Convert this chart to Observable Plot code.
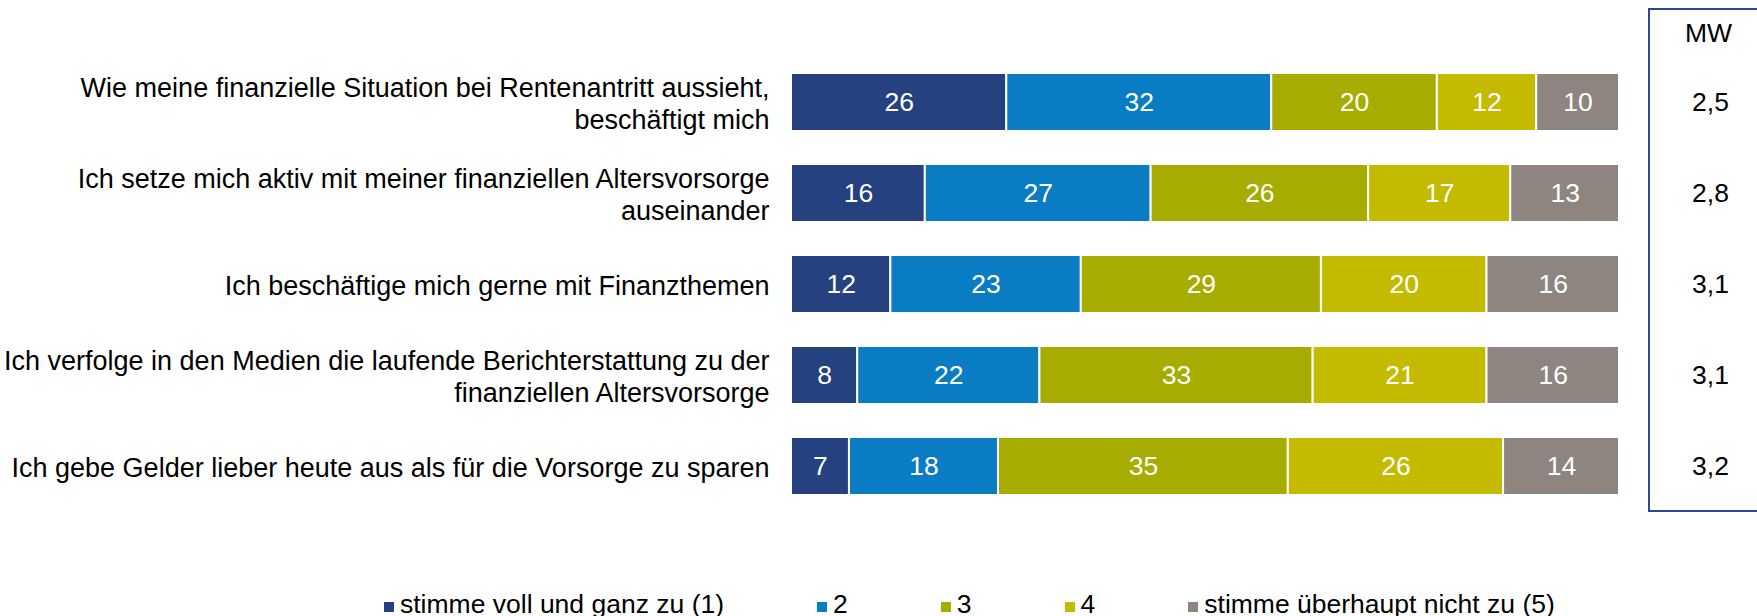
<!DOCTYPE html>
<html>
<head>
<meta charset="utf-8">
<script src="https://cdn.jsdelivr.net/npm/d3@7"></script>
<script src="https://cdn.jsdelivr.net/npm/@observablehq/plot@0.6"></script>
<style>
  html, body { margin: 0; padding: 0; background: #fff; }
  body { width: 1757px; height: 616px; position: relative; overflow: hidden;
         font-family: "Liberation Sans", Arial, sans-serif; }
  #chart { position: absolute; left: 0; top: 0; }
  #mwbox { position: absolute; left: 1648px; top: 8px; width: 120px; height: 500px;
           border-left: 2.7px solid #2b4a93; border-top: 2.7px solid #2b4a93; border-bottom: 2.7px solid #2b4a93; }
  #legend { position: absolute; left: 384px; top: 589px; display: flex; gap: 93px;
            font-size: 26.5px; color: #000; line-height: 30px; }
  #legend .item { display: flex; align-items: center; white-space: nowrap; }
  #legend .sw { width: 10px; height: 10px; margin-right: 6px; margin-top: 6px; }
</style>
</head>
<body>
<div id="chart"></div>
<div id="mwbox"></div>
<div id="legend"></div>
<script>
const statements = [
  "Wie meine finanzielle Situation bei Rentenantritt aussieht,\nbeschäftigt mich",
  "Ich setze mich aktiv mit meiner finanziellen Altersvorsorge\nauseinander",
  "Ich beschäftige mich gerne mit Finanzthemen",
  "Ich verfolge in den Medien die laufende Berichterstattung zu der\nfinanziellen Altersvorsorge",
  "Ich gebe Gelder lieber heute aus als für die Vorsorge zu sparen"
];
const answers = ["stimme voll und ganz zu (1)", "2", "3", "4", "stimme überhaupt nicht zu (5)"];
const colors = ["#264180", "#0a7cc4", "#a6ad00", "#c4bb00", "#8e8580"];
const s1 = [26, 16, 12, 8, 7];
const s2 = [32, 27, 23, 22, 18];
const s3 = [20, 26, 29, 33, 35];
const s4 = [12, 17, 20, 21, 26];
const s5 = [10, 13, 16, 16, 14];
const meanValues = ["2,5", "2,8", "3,1", "3,1", "3,2"];
const meanHeader = "MW";

const seriesValues = [s1, s2, s3, s4, s5];
const rows = [];
statements.forEach((st, i) => {
  answers.forEach((a, j) => rows.push({statement: st, answer: a, value: seriesValues[j][i]}));
});
const means = statements.map((st, i) => ({statement: st, mw: meanValues[i]}));

const font = "'Liberation Sans', Arial, sans-serif";
const stackOpts = {x: "value", y: "statement", z: "answer", order: answers, offset: "normalize"};

const chart = Plot.plot({
  width: 1757,
  height: 575,
  marginLeft: 791,
  marginRight: 138,
  marginTop: 57,
  marginBottom: 63,
  style: {fontFamily: font, fontSize: "27px", background: "white", overflow: "visible"},
  x: {domain: [0, 1], axis: null},
  y: {domain: statements, paddingInner: 0.36, paddingOuter: 0.18, label: null},
  color: {domain: answers, range: colors},
  marks: [
    Plot.axisY({tickSize: 0, tickPadding: 22, fontSize: 27, lineHeight: 1.18, fill: "#000", label: null}),
    Plot.barX(rows, Plot.stackX({...stackOpts, fill: "answer", stroke: "white", strokeWidth: 2})),
    Plot.text(rows, Plot.stackX({...stackOpts, text: "value", fill: "white", fontSize: 26.5})),
    Plot.text(means, {y: "statement", text: "mw", frameAnchor: "right", textAnchor: "middle", dx: 91, fontSize: 26.5, fill: "#000"}),
    Plot.text([meanHeader], {text: d => d, frameAnchor: "top-right", textAnchor: "middle", dx: 89, dy: -24, lineAnchor: "middle", fontSize: 26.5, fill: "#000"})
  ]
});
document.getElementById("chart").appendChild(chart);

const legend = document.getElementById("legend");
answers.forEach((a, j) => {
  const item = document.createElement("div");
  item.className = "item";
  const sw = document.createElement("span");
  sw.className = "sw";
  sw.style.background = colors[j];
  const t = document.createElement("span");
  t.textContent = a;
  item.appendChild(sw);
  item.appendChild(t);
  legend.appendChild(item);
});
</script>
</body>
</html>
